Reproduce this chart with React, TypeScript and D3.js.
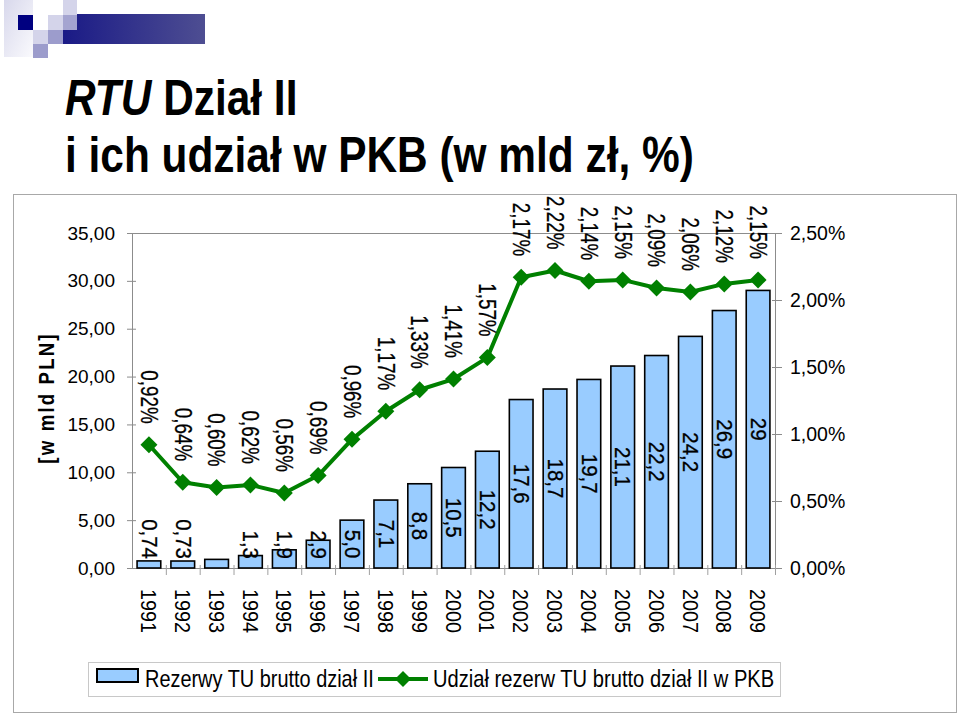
import React from 'react';
import * as d3 from 'd3';

const years = ['1991','1992','1993','1994','1995','1996','1997','1998','1999','2000','2001','2002','2003','2004','2005','2006','2007','2008','2009'];
const reserves = [0.74,0.73,0.9,1.3,1.9,2.9,5.0,7.1,8.8,10.5,12.2,17.6,18.7,19.7,21.1,22.2,24.2,26.9,29];
const reserveLabels = ['0,74','0,73','','1,3','1,9','2,9','5,0','7,1','8,8','10,5','12,2','17,6','18,7','19,7','21,1','22,2','24,2','26,9','29'];
const gdpShare = [0.92,0.64,0.60,0.62,0.56,0.69,0.96,1.17,1.33,1.41,1.57,2.17,2.22,2.14,2.15,2.09,2.06,2.12,2.15];
const leftTicks = [0,5,10,15,20,25,30,35];
const rightTicks = [0,0.5,1,1.5,2,2.5];

const FONT = "'Liberation Sans', Arial, sans-serif";
const fmtL = (v: number) => v.toFixed(2).replace('.', ',');
const fmtR = (v: number) => v.toFixed(2).replace('.', ',') + '%';
const charW = (s: string) => s.split('').reduce((a, c) => a + (c === ',' ? 0.278 : c === '%' ? 0.889 : 0.556), 0);

export default function App() {
  const left = 132, right = 775, top = 233, bottom = 568;
  const x = d3.scaleBand<string>().domain(years).range([left, right]).paddingInner(0.3).paddingOuter(0.15);
  const step = x.step();
  const yL = d3.scaleLinear().domain([0, 35]).range([bottom, top]);
  const yR = d3.scaleLinear().domain([0, 2.5]).range([bottom, top]);
  const cx = (y: string) => (x(y) as number) + x.bandwidth() / 2;
  const line = d3.line<number>().x((_, i) => cx(years[i])).y(d => yR(d));
  const green = '#008000';
  const diamond = (r: number) => `M0,${-r}L${r},0L0,${r}L${-r},0Z`;
  const boundaries = d3.range(1, years.length + 1).map(i => left + i * step);

  const barFs = 22, barSx = 0.93;
  const pctFs = 23, pctSx = 0.82;

  return (
    <svg width={960} height={714} style={{ position: 'absolute', left: 0, top: 0, background: '#fff' }} fontFamily={FONT}>
      <defs>
        <linearGradient id="pale" x1="0" y1="0" x2="1" y2="1">
          <stop offset="0" stopColor="#d8d8ec" />
          <stop offset="1" stopColor="#fafafd" />
        </linearGradient>
        <linearGradient id="barg" x1="0" y1="0" x2="1" y2="0">
          <stop offset="0" stopColor="#1a1a86" />
          <stop offset="1" stopColor="#4e4e92" />
        </linearGradient>
      </defs>
      <rect x={0} y={0} width={960} height={714} fill="#fff" />
      {/* logo */}
      <rect x={4} y={0} width={29} height={57} fill="url(#pale)" />
      <rect x={63} y={14} width={142} height={30} fill="url(#barg)" />
      <rect x={18} y={15} width={15} height={15} fill="#000080" />
      <rect x={63} y={0} width={14} height={15} fill="#d4d4ea" />
      <rect x={48} y={15} width={15} height={15} fill="#d4d4ea" />
      <rect x={63} y={15} width={14} height={15} fill="#a4a4d0" />
      <rect x={33} y={30} width={15} height={14} fill="#d4d4ea" />
      <rect x={48} y={30} width={15} height={14} fill="#9c9ccc" />
      <rect x={33} y={44} width={15} height={14} fill="#9c9ccc" />

      {/* title (two lines) */}
      <text transform="translate(65,0) scale(0.848,1)" fontWeight="bold" fill="#000" fontSize={50}>
        <tspan x={0} y={115}><tspan fontStyle="italic">RTU</tspan> Dział II</tspan>
        <tspan x={0} y={172}>i ich udział w PKB (w mld zł, %)</tspan>
      </text>

      {/* outer frame */}
      <rect x={13.5} y={194.5} width={943} height={518} fill="none" stroke="#a8a8a8" strokeWidth={1} />

      {/* plot area border */}
      <rect x={left + 0.5} y={top + 0.5} width={right - left} height={bottom - top} fill="none" stroke="#8c8c8c" strokeWidth={1} />

      {/* left axis ticks & labels */}
      {leftTicks.map(t => (
        <g key={'l' + t}>
          <line x1={left - 5} x2={left + 4} y1={yL(t) + 0.5} y2={yL(t) + 0.5} stroke="#8c8c8c" />
          <text x={115} y={yL(t)} textAnchor="end" dominantBaseline="central" fontSize={19} fill="#000">{fmtL(t)}</text>
        </g>
      ))}
      {/* right axis */}
      {rightTicks.map(t => (
        <g key={'r' + t}>
          <line x1={right - 3} x2={right + 7} y1={yR(t) + 0.5} y2={yR(t) + 0.5} stroke="#8c8c8c" />
          <text x={790} y={yR(t)} textAnchor="start" dominantBaseline="central" fontSize={19.5} fill="#000">{fmtR(t)}</text>
        </g>
      ))}
      {/* category ticks */}
      {boundaries.map((b, i) => (
        <line key={'c' + i} x1={b + 0.5} x2={b + 0.5} y1={bottom - 3} y2={bottom + 7} stroke="#a0a0a0" />
      ))}

      {/* bars */}
      {reserves.map((v, i) => (
        <rect key={'b' + i} x={x(years[i])} y={yL(v)} width={x.bandwidth()} height={bottom - yL(v)}
          fill="#99ccff" stroke="#000" strokeWidth={1.6} />
      ))}

      {/* bar labels */}
      {reserveLabels.map((lab, i) => {
        if (!lab) return null;
        const len = charW(lab) * barFs * barSx;
        const mid = (yL(reserves[i]) + bottom) / 2;
        const cy = Math.min(mid, 559 - len / 2);
        return (
          <text key={'bl' + i} transform={`translate(${cx(years[i])},${cy}) rotate(90) scale(${barSx},1)`} textAnchor="middle"
            dominantBaseline="central" fontSize={barFs} fill="#000" stroke="#000" strokeWidth={0.3}>{lab}</text>
        );
      })}

      {/* line */}
      <path d={line(gdpShare) as string} fill="none" stroke={green} strokeWidth={4} strokeLinejoin="round" />
      {gdpShare.map((p, i) => (
        <path key={'m' + i} d={diamond(8.5)} transform={`translate(${cx(years[i])},${yR(p)})`} fill={green} />
      ))}
      {gdpShare.map((p, i) => (
        <text key={'pl' + i} transform={`translate(${cx(years[i])},${yR(p) - 21}) rotate(90) scale(${pctSx},1)`} textAnchor="end"
          dominantBaseline="central" fontSize={pctFs} fill="#000" stroke="#000" strokeWidth={0.3}>{fmtR(p)}</text>
      ))}

      {/* year labels */}
      {years.map(yv => (
        <text key={'y' + yv} transform={`translate(${cx(yv)},589) rotate(90) scale(0.9,1)`} textAnchor="start"
          dominantBaseline="central" fontSize={22} fill="#000">{yv}</text>
      ))}

      {/* y-axis title */}
      <text transform="translate(46,398) rotate(-90) scale(0.85,1)" textAnchor="middle" dominantBaseline="central"
        fontSize={22} fontWeight="bold" letterSpacing={2.5} fill="#000">[w mld PLN]</text>

      {/* legend */}
      <rect x={88.5} y={662.5} width={692} height={34} fill="#fff" stroke="#c8c8c8" />
      <rect x={97} y={669} width={41} height={13} fill="#99ccff" stroke="#000" strokeWidth={2} />
      <text transform="translate(145,687) scale(0.83,1)" fontSize={24} fill="#000">Rezerwy TU brutto dział II</text>
      <line x1={378} x2={428} y1={679} y2={679} stroke={green} strokeWidth={4} />
      <path d={diamond(8)} transform="translate(403,679)" fill={green} />
      <text transform="translate(433,687) scale(0.84,1)" fontSize={24} fill="#000">Udział rezerw TU brutto dział II w PKB</text>
    </svg>
  );
}
